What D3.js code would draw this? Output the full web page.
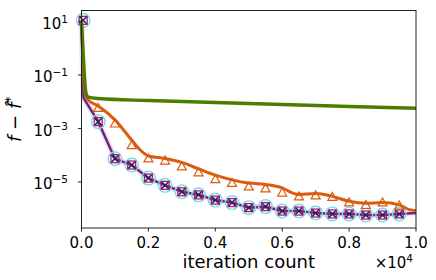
<!DOCTYPE html>
<html>
<head>
<meta charset="utf-8">
<script src="https://cdn.jsdelivr.net/npm/d3@7"></script>
<style>
  body { margin: 0; background: #fff; }
  svg { display: block; font-family: "DejaVu Sans", sans-serif; }
</style>
</head>
<body>
<script>
// markers every 500 iterations
const markerIters = [50, 500, 1000, 1500, 2000, 2500, 3000, 3500, 4000, 4500,
  5000, 5500, 6000, 6500, 7000, 7500, 8000, 8500, 9000, 9500]
const purpleMarks = [11, 1.8e-3, 7.4e-5, 4.3e-5, 1.4e-5, 7.5e-6, 4.3e-6, 3.3e-6, 2.1e-6, 1.7e-6,
  1.1e-6, 1.2e-6, 8.2e-7, 8.2e-7, 6.9e-7, 6.4e-7, 6.4e-7, 5.8e-7, 5.8e-7, 6.4e-7]

const purpleIters = [0, 60, 500, 1000, 1500, 2000, 2500, 3000, 3500, 4000, 4500,
  5000, 5500, 6000, 6500, 7000, 7500, 8000, 8500, 9000, 9500, 10000]
const purpleLine = [11, 0.014, 1.8e-3, 7.4e-5, 4.3e-5, 1.4e-5, 7.5e-6, 4.3e-6, 3.3e-6, 2.1e-6, 1.7e-6,
  1.1e-6, 1.2e-6, 8.2e-7, 8.2e-7, 6.9e-7, 6.4e-7, 6.4e-7, 5.8e-7, 5.8e-7, 6.4e-7, 6.9e-7]

const triIters = [500, 1000, 1500, 2000, 2500, 3000, 3500, 4000, 4500,
  5000, 5500, 6000, 6500, 7000, 7500, 8000, 8500, 9000, 9500]
const triMarks = [6.1e-3, 1.6e-3, 2.5e-4, 7.9e-5, 6.6e-5, 4.0e-5, 2.4e-5, 1.33e-5, 9.6e-6,
  7.1e-6, 6.0e-6, 4.2e-6, 3.0e-6, 3.3e-6, 2.9e-6, 1.8e-6, 1.44e-6, 1.8e-6, 1.38e-6]

const orangeIters = [0, 100, 200, 500, 1000, 1500, 1750, 2000, 2500, 3000, 3500, 4000, 4500,
  5000, 5500, 6000, 6300, 6500, 7000, 7500, 8000, 8500, 9000, 9500, 9800, 10000]
const orangeLine = [10, 0.025, 0.0117, 0.0069, 0.0021, 3.7e-4, 1.6e-4, 9.4e-5, 7.6e-5, 5.4e-5, 3.1e-5, 1.8e-5, 1.2e-5,
  9.1e-6, 8.1e-6, 6.0e-6, 3.9e-6, 3.4e-6, 3.7e-6, 2.9e-6, 1.9e-6, 1.6e-6, 1.7e-6, 1.4e-6, 9.3e-7, 8.5e-7]

const greenIters = [0, 60, 130, 200, 500, 2000, 4000, 6000, 8000, 10000]
const greenLine = [10, 0.36, 0.023, 0.015, 0.0132, 0.0111, 0.0094, 0.0079, 0.0066, 0.0057]

const xTicks = [0, 2000, 4000, 6000, 8000, 10000]
const yTicks = [10, 0.1, 1e-3, 1e-5]
const yExps = ['1', '\u22121', '\u22123', '\u22125']

var W = 436, H = 280
var m = {left: 81.5, top: 10.5, right: 20, bottom: 52}
var w = W - m.left - m.right, h = H - m.top - m.bottom

var svg = d3.select('body').append('svg')
    .attr('width', W)
    .attr('height', H)

var x = d3.scaleLinear().domain([0, 10000]).range([0, w])
var y = d3.scaleLog().domain([Math.pow(10, -6.72), Math.pow(10, 1.41)]).range([h, 0])

var g = svg.append('g').attr('transform', 'translate(' + m.left + ',' + m.top + ')')

function pts(iters, vals) {
  return iters.map((it, i) => [it, vals[i]])
}

var line = d3.line().x(d => x(d[0])).y(d => y(d[1]))
var smooth = d3.line().x(d => x(d[0])).y(d => y(d[1])).curve(d3.curveMonotoneX)

// purple / navy band
g.append('path').datum(pts(purpleIters, purpleLine))
  .attr('d', line).attr('fill', 'none')
  .attr('stroke', '#d9a3cc').attr('stroke-width', 6).attr('opacity', 0.3)
g.append('path').datum(pts(purpleIters, purpleLine))
  .attr('d', line).attr('fill', 'none')
  .attr('stroke', '#7d2e8e').attr('stroke-width', 2.6)
g.append('path').datum(pts(purpleIters, purpleLine))
  .attr('d', line).attr('fill', 'none')
  .attr('stroke', '#25306a').attr('stroke-width', 1).attr('opacity', 0.7)

var pm = pts(markerIters, purpleMarks)
g.selectAll('circle.c').data(pm).enter().append('circle')
  .attr('class', 'c')
  .attr('cx', d => x(d[0])).attr('cy', d => y(d[1])).attr('r', 6.8)
  .attr('fill', 'none').attr('stroke', '#7adfe0').attr('stroke-width', 1.4)
g.selectAll('rect.s').data(pm).enter().append('rect')
  .attr('class', 's')
  .attr('x', d => x(d[0]) - 4).attr('y', d => y(d[1]) - 4)
  .attr('width', 8).attr('height', 8)
  .attr('fill', 'none').attr('stroke', '#b5157d').attr('stroke-width', 1.3)
g.selectAll('path.x').data(pm).enter().append('path')
  .attr('class', 'x')
  .attr('d', d => {
    var cx = x(d[0]), cy = y(d[1]), s = 3.5
    return 'M' + (cx - s) + ',' + (cy - s) + 'L' + (cx + s) + ',' + (cy + s) +
      'M' + (cx - s) + ',' + (cy + s) + 'L' + (cx + s) + ',' + (cy - s)
  })
  .attr('stroke', '#1b2754').attr('stroke-width', 1.4)

// orange
g.append('path').datum(pts(orangeIters, orangeLine))
  .attr('d', smooth).attr('fill', 'none')
  .attr('stroke', '#dd5a0e').attr('stroke-width', 3)
g.selectAll('path.t').data(pts(triIters, triMarks)).enter().append('path')
  .attr('class', 't')
  .attr('d', d => {
    var cx = x(d[0]), cy = y(d[1])
    return 'M' + cx + ',' + (cy - 4) + 'L' + (cx - 4.5) + ',' + (cy + 4) + 'L' + (cx + 4.5) + ',' + (cy + 4) + 'Z'
  })
  .attr('fill', 'none').attr('stroke', '#dd5a0e').attr('stroke-width', 1.2)

// green
g.append('path').datum(pts(greenIters, greenLine))
  .attr('d', smooth).attr('fill', 'none')
  .attr('stroke', '#4a7d00').attr('stroke-width', 3.4)

// frame
g.append('rect').attr('width', w).attr('height', h)
  .attr('fill', 'none').attr('stroke', '#222').attr('stroke-width', 1)

// x axis
var xa = g.append('g').attr('transform', 'translate(0,' + h + ')')
xa.selectAll('line').data(xTicks).enter().append('line')
  .attr('x1', d => x(d)).attr('x2', d => x(d)).attr('y1', 0).attr('y2', 3.5)
  .attr('stroke', '#222')
xa.selectAll('text').data(xTicks).enter().append('text')
  .attr('x', d => x(d)).attr('y', 19.5)
  .attr('text-anchor', 'middle').attr('font-size', 15)
  .text(d => (d / 10000).toFixed(1))

// y axis
var ya = g.append('g')
ya.selectAll('line').data(yTicks).enter().append('line')
  .attr('x1', -3.5).attr('x2', 0).attr('y1', d => y(d)).attr('y2', d => y(d))
  .attr('stroke', '#222')
var yt = ya.selectAll('text').data(yTicks).enter().append('text')
  .attr('x', -13.5).attr('y', d => y(d) + 7.5)
  .attr('text-anchor', 'end').attr('font-size', 15)
yt.append('tspan').text('10')
yt.append('tspan').attr('dy', -6).attr('font-size', 10.5).text((d, i) => yExps[i])

svg.append('text')
  .attr('x', m.left + w / 2).attr('y', 268)
  .attr('text-anchor', 'middle').attr('font-size', 18)
  .text('iteration count')

var off = svg.append('text')
  .attr('x', 413).attr('y', 268)
  .attr('text-anchor', 'end').attr('font-size', 15)
off.append('tspan').text('\u00d710')
off.append('tspan').attr('dy', -6).attr('font-size', 10.5).text('4')

var yl = svg.append('text')
  .attr('transform', 'translate(21,' + (m.top + h / 2) + ') rotate(-90)')
  .attr('text-anchor', 'middle').attr('font-size', 18).attr('font-style', 'italic')
yl.append('tspan').text('f \u2212 f\u0302')
yl.append('tspan').attr('dy', -7).attr('font-size', 12.5).text('*')
</script>
</body>
</html>
